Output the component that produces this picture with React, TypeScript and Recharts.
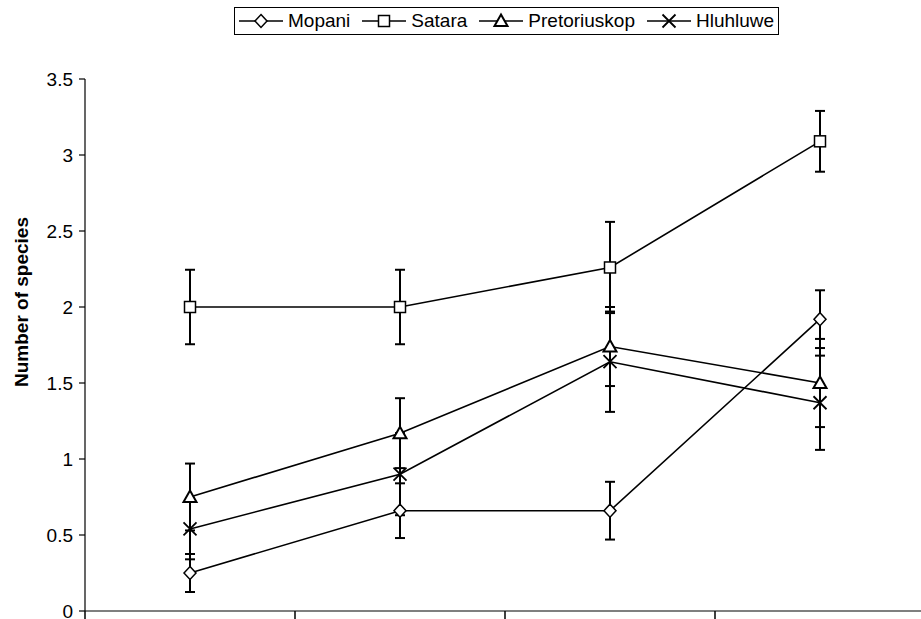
import React from 'react';
import { LineChart, Line, XAxis, YAxis, ErrorBar, Label } from 'recharts';

// four sampling groups along x (no labels in the original), boundaries get ticks
const groupCentres = [0.5, 1.5, 2.5, 3.5];
const xTicks = [0, 1, 2, 3, 4];
const yTicks = [0, 0.5, 1, 1.5, 2, 2.5, 3, 3.5];

const mopani = [0.25, 0.66, 0.66, 1.92];
const mopaniErr = [0.125, 0.18, 0.19, 0.19];

const satara = [2.0, 2.0, 2.26, 3.09];
const sataraErr = [0.245, 0.245, 0.3, 0.2];

const pretoriuskop = [0.75, 1.17, 1.74, 1.5];
const pretoriuskopErr = [0.22, 0.23, 0.26, 0.29];

const hluhluwe = [0.54, 0.9, 1.64, 1.37];
const hluhluweErr = [0.2, 0.27, 0.33, 0.31];

const FONT = '"Liberation Sans", Arial, sans-serif';

type MarkProps = { cx?: number; cy?: number };

const Diamond = ({ cx = 0, cy = 0 }: MarkProps) => (
  <path
    d={`M${cx},${cy - 6.5} L${cx + 6},${cy} L${cx},${cy + 6.5} L${cx - 6},${cy} Z`}
    fill="#fff"
    stroke="#000"
    strokeWidth={1.5}
  />
);

const Square = ({ cx = 0, cy = 0 }: MarkProps) => (
  <rect x={cx - 5.5} y={cy - 5.5} width={11} height={11} fill="#fff" stroke="#000" strokeWidth={1.5} />
);

const Triangle = ({ cx = 0, cy = 0 }: MarkProps) => (
  <path
    d={`M${cx},${cy - 6.5} L${cx + 6.5},${cy + 5} L${cx - 6.5},${cy + 5} Z`}
    fill="#fff"
    stroke="#000"
    strokeWidth={2}
  />
);

const Cross = ({ cx = 0, cy = 0 }: MarkProps) => (
  <path
    d={`M${cx - 6.5},${cy - 6.5} L${cx + 6.5},${cy + 6.5} M${cx + 6.5},${cy - 6.5} L${cx - 6.5},${cy + 6.5}`}
    stroke="#000"
    strokeWidth={1.8}
    fill="none"
  />
);

const series = [
  { name: 'Mopani', key: 'mopani', values: mopani, errs: mopaniErr, Mark: Diamond },
  { name: 'Satara', key: 'satara', values: satara, errs: sataraErr, Mark: Square },
  { name: 'Pretoriuskop', key: 'pretoriuskop', values: pretoriuskop, errs: pretoriuskopErr, Mark: Triangle },
  { name: 'Hluhluwe', key: 'hluhluwe', values: hluhluwe, errs: hluhluweErr, Mark: Cross },
];

const rows = groupCentres.map((x, i) => {
  const row: Record<string, number> = { x };
  series.forEach(s => {
    row[s.key] = s.values[i];
    row[s.key + 'Err'] = s.errs[i];
  });
  return row;
});

const LegendBox = () => (
  <div
    style={{
      position: 'absolute',
      left: 234,
      top: 7,
      height: 26,
      border: '1px solid #000',
      background: '#fff',
      display: 'flex',
      alignItems: 'center',
      padding: '0 4px 0 4px',
      fontFamily: FONT,
      fontSize: 19,
      color: '#000',
      whiteSpace: 'nowrap',
    }}
  >
    {series.map((s, i) => (
      <div key={s.key} style={{ display: 'flex', alignItems: 'center', marginLeft: i === 0 ? 0 : 12 }}>
        <svg width={44} height={18} style={{ marginRight: 5 }}>
          <line x1={0} y1={9} x2={44} y2={9} stroke="#000" strokeWidth={1.5} />
          <s.Mark cx={22} cy={9} />
        </svg>
        <span>{s.name}</span>
      </div>
    ))}
  </div>
);

const YTitle = () => (
  <text
    x={21}
    y={302}
    transform="rotate(-90, 21, 302)"
    textAnchor="middle"
    dominantBaseline="central"
    fontFamily={FONT}
    fontSize={19}
    fontWeight="bold"
    fill="#000"
  >
    Number of species
  </text>
);

// x axis has no labels, only downward boundary marks
const XTickMark = (props: any) => (
  <line x1={props.x} y1={props.y} x2={props.x} y2={props.y + 8} stroke="#000" strokeWidth={1.5} />
);

export default function App() {
  return (
    <div style={{ position: 'fixed', left: 0, top: 0, width: 921, height: 619, overflow: 'hidden', background: '#fff' }}>
      <LineChart width={928} height={619} data={rows} margin={{ top: 79, right: 3, bottom: 0, left: 0 }}>
        <XAxis
          dataKey="x"
          type="number"
          domain={[0, 4]}
          ticks={xTicks}
          interval={0}
          tick={XTickMark}
          tickLine={false}
          tickSize={0}
          tickMargin={0}
          height={8}
          axisLine={{ stroke: '#000', strokeWidth: 1.2 }}
        />
        <YAxis
          type="number"
          domain={[0, 3.5]}
          ticks={yTicks}
          interval={0}
          width={85}
          tickSize={6}
          tickMargin={6}
          axisLine={{ stroke: '#000', strokeWidth: 1.2 }}
          tickLine={{ stroke: '#000', strokeWidth: 1.2 }}
          tick={{ fill: '#000', fontSize: 19, fontFamily: FONT }}
        >
          <Label content={<YTitle />} />
        </YAxis>
        {series.map(s => (
          <Line
            key={s.key}
            dataKey={s.key}
            name={s.name}
            type="linear"
            stroke="#000"
            strokeWidth={1.6}
            isAnimationActive={false}
            dot={(p: any) => <s.Mark key={`${s.key}-${p.index}`} cx={p.cx} cy={p.cy} />}
            activeDot={false}
          >
            <ErrorBar dataKey={s.key + 'Err'} direction="y" width={5} stroke="#000" strokeWidth={2} />
          </Line>
        ))}
      </LineChart>
      <LegendBox />
    </div>
  );
}
